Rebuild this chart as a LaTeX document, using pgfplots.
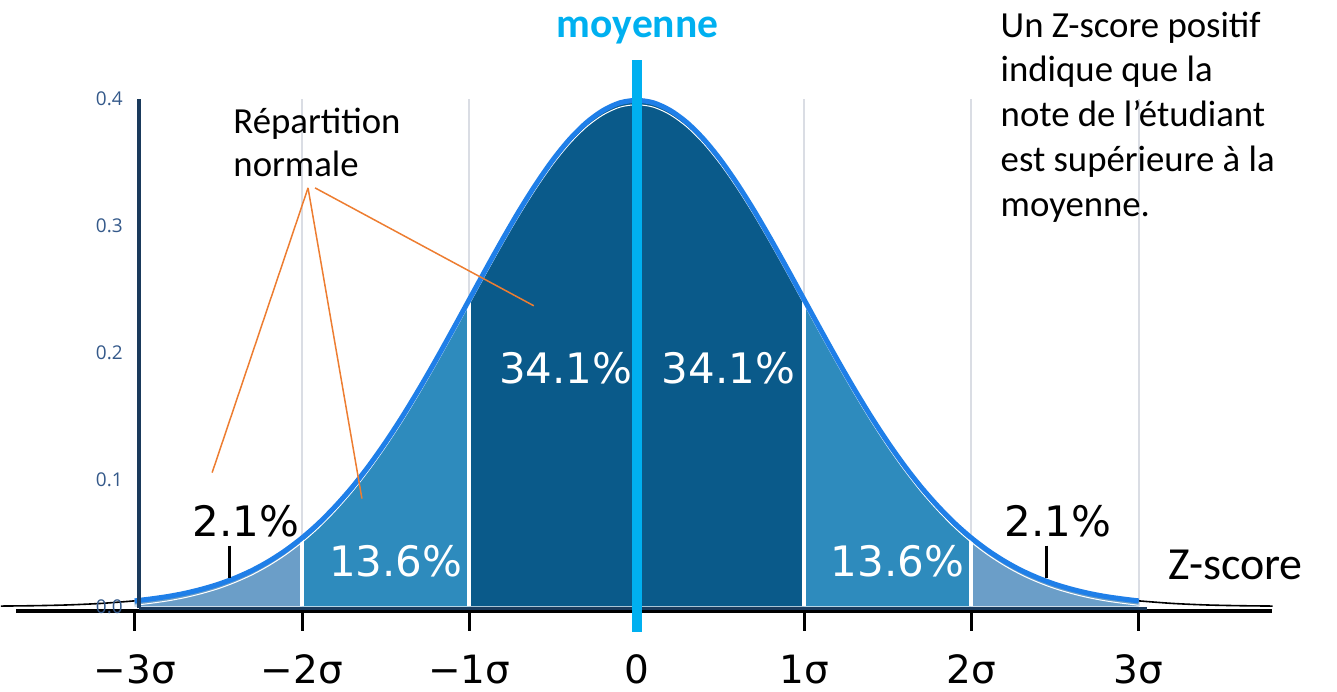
\documentclass[border=0pt]{standalone}
\usepackage{fontspec}
\setmainfont{Carlito}
\newfontfamily\dejavu{DejaVu Sans}
\newfontfamily\opensans{Open Sans}
\usepackage{pgfplots}
\usepackage{pgfplotstable}
\pgfplotsset{compat=1.18}
\definecolor{reglight}{HTML}{6B9EC8}
\definecolor{regmid}{HTML}{2E8BBD}
\definecolor{regdark}{HTML}{0A5A8A}
\definecolor{curveblue}{HTML}{1F7FE8}
\definecolor{meancyan}{HTML}{00B0F0}
\definecolor{navy}{HTML}{1A3A5C}
\definecolor{ticklab}{HTML}{34598A}
\definecolor{orangeline}{HTML}{ED7D31}
\definecolor{gridgray}{HTML}{DADDE4}
\pgfplotstableread{
x y
-3.8 0.0003
-3.6 0.0006
-3.4 0.0012
-3.2 0.0024
-3.0 0.0044
-2.9 0.0060
-2.8 0.0079
-2.7 0.0104
-2.6 0.0136
-2.5 0.0175
-2.4 0.0224
-2.3 0.0283
-2.2 0.0355
-2.1 0.0440
-2.0 0.0540
-1.9 0.0656
-1.8 0.0790
-1.7 0.0940
-1.6 0.1109
-1.5 0.1295
-1.4 0.1497
-1.3 0.1714
-1.2 0.1942
-1.1 0.2179
-1.0 0.2420
-0.9 0.2661
-0.8 0.2897
-0.7 0.3123
-0.6 0.3332
-0.5 0.3521
-0.4 0.3683
-0.3 0.3814
-0.2 0.3910
-0.1 0.3970
0.0 0.3989
0.1 0.3970
0.2 0.3910
0.3 0.3814
0.4 0.3683
0.5 0.3521
0.6 0.3332
0.7 0.3123
0.8 0.2897
0.9 0.2661
1.0 0.2420
1.1 0.2179
1.2 0.1942
1.3 0.1714
1.4 0.1497
1.5 0.1295
1.6 0.1109
1.7 0.0940
1.8 0.0790
1.9 0.0656
2.0 0.0540
2.1 0.0440
2.2 0.0355
2.3 0.0283
2.4 0.0224
2.5 0.0175
2.6 0.0136
2.7 0.0104
2.8 0.0079
2.9 0.0060
3.0 0.0044
3.2 0.0024
3.4 0.0012
3.6 0.0006
3.8 0.0003
}\curve
\tikzset{
  xlab/.style={anchor=base, inner sep=0pt, font=\dejavu\fontsize{19.5pt}{22pt}\selectfont},
  ylab/.style={anchor=east, inner sep=0pt, text=ticklab, font=\opensans\fontsize{9.5pt}{11pt}\selectfont},
  pct/.style={anchor=base, inner sep=0pt, font=\dejavu\fontsize{21pt}{24pt}\selectfont},
  rtxt/.style={anchor=base west, inner sep=0pt, font=\fontsize{18.4pt}{22pt}\selectfont},
  xtk/.style={black, line width=1.5pt},
  grd/.style={gridgray, line width=1pt}
}
\begin{document}
\begin{tikzpicture}
\begin{axis}[width=668.5pt, height=346pt, scale only axis,
  xmin=-3.797, xmax=4.185, ymin=-0.0669, ymax=0.4780,
  hide axis, clip=false]
\path (rel axis cs:0,0) rectangle (rel axis cs:1,1);
% grid lines
\draw[grd] (axis cs:-2,0) -- (axis cs:-2,0.4);
\draw[grd] (axis cs:-1,0) -- (axis cs:-1,0.4);
\draw[grd] (axis cs:1,0) -- (axis cs:1,0.4);
\draw[grd] (axis cs:2,0) -- (axis cs:2,0.4);
\draw[grd] (axis cs:3,0) -- (axis cs:3,0.4);
% fills
\addplot[fill=reglight, draw=none, smooth, restrict x to domain=-3:-2] table {\curve} \closedcycle;
\addplot[fill=regmid, draw=none, smooth, restrict x to domain=-2:-1] table {\curve} \closedcycle;
\addplot[fill=regdark, draw=none, smooth, restrict x to domain=-1:1] table {\curve} \closedcycle;
\addplot[fill=regmid, draw=none, smooth, restrict x to domain=1:2] table {\curve} \closedcycle;
\addplot[fill=reglight, draw=none, smooth, restrict x to domain=2:3] table {\curve} \closedcycle;
% white separators
\addplot[white, line width=2pt] coordinates {(-1,0) (-1,0.2420)};
\addplot[white, line width=2pt] coordinates {(1,0) (1,0.2420)};
\addplot[white, line width=2pt] coordinates {(-2,0) (-2,0.0540)};
\addplot[white, line width=2pt] coordinates {(2,0) (2,0.0540)};
% black tails
\addplot[black, line width=0.8pt, smooth, restrict x to domain=-3.8:-3] table {\curve};
\addplot[black, line width=0.8pt, smooth, restrict x to domain=3:3.8] table {\curve};
% curve outline
\addplot[white, line width=0.5pt, smooth, yshift=-2.2pt, restrict x to domain=-3:3] table {\curve};
\addplot[curveblue, line width=2.5pt, smooth, restrict x to domain=-3:3] table {\curve};
% axis lines
\draw[black, line width=2pt] (axis cs:-3.707,-0.0039) -- (axis cs:3.797,-0.0039);
\draw[navy, line width=1.5pt] (axis cs:-2.973,-0.0016) -- (axis cs:3.05,-0.0016);
\draw[navy, line width=2pt] (axis cs:-2.973,-0.0016) -- (axis cs:-2.973,0.4);
% x ticks and labels
\draw[xtk] (axis cs:-3,-0.0039) -- (axis cs:-3,-0.0197);
\draw[xtk] (axis cs:-2,-0.0039) -- (axis cs:-2,-0.0197);
\draw[xtk] (axis cs:-1,-0.0039) -- (axis cs:-1,-0.0197);
\draw[xtk] (axis cs:0,-0.0039) -- (axis cs:0,-0.0197);
\draw[xtk] (axis cs:1,-0.0039) -- (axis cs:1,-0.0197);
\draw[xtk] (axis cs:2,-0.0039) -- (axis cs:2,-0.0197);
\draw[xtk] (axis cs:3,-0.0039) -- (axis cs:3,-0.0197);
\node[xlab] at (axis cs:-3,-0.0606) {−3σ};
\node[xlab] at (axis cs:-2,-0.0606) {−2σ};
\node[xlab] at (axis cs:-1,-0.0606) {−1σ};
\node[xlab] at (axis cs:0,-0.0606) {0};
\node[xlab] at (axis cs:1,-0.0606) {1σ};
\node[xlab] at (axis cs:2,-0.0606) {2σ};
\node[xlab] at (axis cs:3,-0.0606) {3σ};
% y tick labels
\node[ylab] at (axis cs:-3.069,0.0) {0.0};
\node[ylab] at (axis cs:-3.069,0.1) {0.1};
\node[ylab] at (axis cs:-3.069,0.2) {0.2};
\node[ylab] at (axis cs:-3.069,0.3) {0.3};
\node[ylab] at (axis cs:-3.069,0.4) {0.4};
% mean line
\draw[meancyan, line width=5pt] (axis cs:0,0.4307) -- (axis cs:0,-0.0205);
\node[anchor=base, inner sep=0pt, text=meancyan, font=\bfseries\fontsize{20.8pt}{24pt}\selectfont] at (axis cs:0.006,0.4488) {moyenne};
% percentages
\node[pct, text=white] at (axis cs:-0.424,0.1756) {34.1\%};
\node[pct, text=white] at (axis cs:0.549,0.1756) {34.1\%};
\node[pct, text=white] at (axis cs:-1.439,0.0236) {13.6\%};
\node[pct, text=white] at (axis cs:1.558,0.0236) {13.6\%};
\node[pct, text=black] at (axis cs:-2.334,0.0551) {2.1\%};
\node[pct, text=black] at (axis cs:2.519,0.0551) {2.1\%};
% small markers under 2.1%
\draw[black, line width=1.5pt] (axis cs:-2.436,0.048) -- (axis cs:-2.436,0.0228);
\draw[black, line width=1.5pt] (axis cs:2.448,0.048) -- (axis cs:2.448,0.0228);
% Z-score label
\node[anchor=base west, inner sep=0pt, font=\fontsize{23pt}{26pt}\selectfont] at (axis cs:3.176,0.0213) {Z-score};
% Repartition normale
\node[rtxt] at (axis cs:-2.412,0.3725) {Répartition};
\node[rtxt] at (axis cs:-2.412,0.3386) {normale};
\draw[orangeline, line width=0.75pt] (axis cs:-1.964,0.3299) -- (axis cs:-2.537,0.1055);
\draw[orangeline, line width=0.75pt] (axis cs:-1.964,0.3299) -- (axis cs:-1.642,0.0850);
\draw[orangeline, line width=0.75pt] (axis cs:-1.922,0.3299) -- (axis cs:-0.615,0.2370);
% right text
\node[rtxt] at (axis cs:2.173,0.4488) {Un Z-score positif};
\node[rtxt] at (axis cs:2.173,0.4134) {indique que la};
\node[rtxt] at (axis cs:2.173,0.3780) {note de l’étudiant};
\node[rtxt] at (axis cs:2.173,0.3425) {est supérieure à la};
\node[rtxt] at (axis cs:2.173,0.3071) {moyenne.};
\end{axis}
\end{tikzpicture}
\end{document}
